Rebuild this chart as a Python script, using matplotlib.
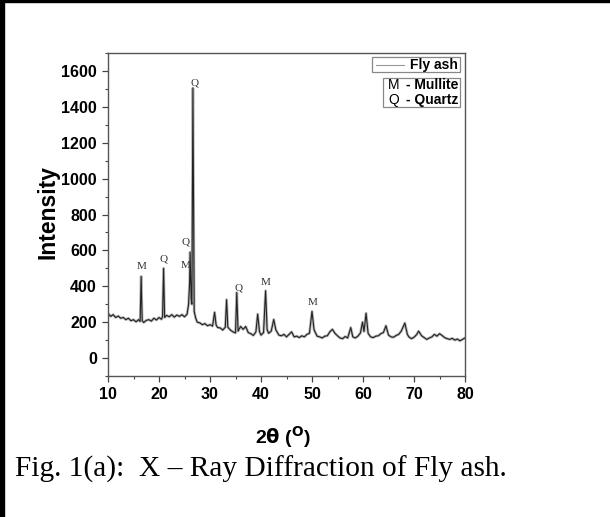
import matplotlib
matplotlib.use("Agg")
import matplotlib.pyplot as plt
from matplotlib.patches import Rectangle
from matplotlib.ticker import MultipleLocator

# 2theta (deg) and intensity
two_theta = [10, 10.5, 11, 11.5, 12, 12.5, 13, 13.5, 14, 14.5, 15, 15.5, 16, 16.3, 16.5, 16.7,
             17, 17.5, 18, 18.5, 19, 19.5, 20, 20.5, 20.7, 20.9, 21.1, 21.5, 22, 22.5, 23, 23.5,
             24, 24.5, 25, 25.5, 25.8, 26.0, 26.1, 26.3, 26.45, 26.65, 26.9, 27.2, 27.5, 28, 28.5,
             29, 29.5, 30, 30.5, 30.9, 31.2, 31.5, 32, 32.5, 33, 33.25, 33.5, 34, 34.5, 35, 35.25,
             35.5, 36, 36.5, 37, 37.5, 38, 38.5, 39, 39.35, 39.7, 40, 40.5, 40.9, 41.2, 41.5, 42,
             42.5, 42.9, 43.5, 44, 44.5, 45, 45.5, 46, 46.5, 47, 47.5, 48, 48.5, 49, 49.5, 50.0,
             50.4, 51, 51.5, 52, 52.5, 53, 53.5, 54, 54.5, 55, 55.5, 56, 56.5, 57, 57.6, 58, 58.5,
             59, 59.5, 59.9, 60.2, 60.6, 61, 61.5, 62, 62.5, 63, 63.5, 64, 64.5, 65, 65.5, 66,
             66.5, 67, 67.5, 68.2, 68.7, 69, 69.5, 70, 70.5, 70.9, 71.5, 72, 72.5, 73, 73.5, 74,
             74.5, 75, 75.5, 76, 76.5, 77, 77.5, 78, 78.5, 79, 79.5, 80]
intensity = [250, 232, 242, 226, 234, 222, 226, 214, 222, 208, 214, 202, 214, 204, 455, 208,
             198, 210, 214, 206, 222, 212, 226, 216, 232, 500, 226, 238, 230, 242, 228, 240,
             232, 242, 230, 244, 300, 420, 590, 330, 300, 1505, 260, 222, 200, 196, 186,
             192, 180, 186, 178, 255, 184, 170, 168, 156, 172, 325, 172, 156, 146, 140, 365,
             150, 176, 160, 176, 142, 136, 126, 146, 245, 148, 128, 142, 375, 158, 138, 150,
             215, 158, 128, 124, 132, 118, 132, 146, 118, 122, 114, 124, 118, 132, 138, 260,
             158, 122, 118, 112, 122, 124, 146, 160, 138, 124, 112, 108, 120, 112, 170, 118, 112,
             122, 140, 200, 148, 250, 138, 118, 114, 122, 124, 136, 142, 180, 128, 118, 116,
             126, 132, 150, 195, 132, 118, 108, 116, 130, 150, 124, 114, 104, 112, 118, 132,
             122, 136, 126, 114, 108, 104, 110, 100, 106, 96, 104, 112]

# phase labels: (text, 2theta, intensity)
peak_labels = [("M", 16.5, 510), ("Q", 20.9, 550), ("Q", 25.3, 645), ("M", 25.2, 517),
               ("Q", 26.9, 1535), ("Q", 35.6, 390), ("M", 41.0, 420), ("M", 50.2, 310)]

W, H = 610, 517
fig = plt.figure(figsize=(W / 100, H / 100), dpi=100)
ax = fig.add_axes([108 / W, 1 - 376 / H, 357 / W, 323 / H])

ax.plot(two_theta, intensity, color="#b8b8b8", lw=2.0, solid_joinstyle="round")
ax.plot(two_theta, intensity, color="#222222", lw=0.8)

for txt, x, y in peak_labels:
    ax.text(x, y, txt, ha="center", va="center", fontsize=8,
            family="Liberation Serif", color="#333333")

ax.set_xlim(10, 80)
ax.set_ylim(-100, 1700)
ax.xaxis.set_major_locator(MultipleLocator(10))
ax.xaxis.set_minor_locator(MultipleLocator(5))
ax.yaxis.set_major_locator(MultipleLocator(200))
ax.yaxis.set_minor_locator(MultipleLocator(100))
ax.tick_params(which="major", direction="out", length=4, width=0.9, color="#444444",
               labelsize=11.5, pad=4)
ax.tick_params(which="minor", direction="out", length=2.5, width=0.8, color="#444444")
for lab in ax.get_xticklabels() + ax.get_yticklabels():
    lab.set_fontfamily("Liberation Sans")
    lab.set_fontweight("bold")
for sp in ax.spines.values():
    sp.set_color("#555555")
    sp.set_linewidth(1.0)

fig.text(48 / W, 1 - 212 / H, "Intensity", rotation=90, ha="center", va="center",
         family="Liberation Sans", fontweight="bold", fontsize=16.5)
fig.text(283 / W, 1 - 437 / H, r"2$\mathbf{\theta}$ ($\mathbf{^{O}}$)", ha="center",
         va="center", family="Liberation Sans", fontweight="bold", fontsize=14)

# legend boxes
tf = fig.transFigure
fig.patches.append(Rectangle((372 / W, 1 - 72 / H), 88 / W, 15 / H, transform=tf,
                             fill=False, ec="#888888", lw=0.9))
fig.patches.append(Rectangle((383 / W, 1 - 107 / H), 77 / W, 29 / H, transform=tf,
                             fill=False, ec="#888888", lw=0.9))
fig.add_artist(plt.Line2D([376 / W, 404 / W], [1 - 64.5 / H, 1 - 64.5 / H], transform=tf,
                          color="#999999", lw=0.8))
fig.text(458 / W, 1 - 64.5 / H, "Fly ash", ha="right", va="center", fontsize=10,
         family="Liberation Sans", fontweight="bold")
fig.text(388 / W, 1 - 85 / H, "M", ha="left", va="center", fontsize=10,
         family="Liberation Sans")
fig.text(458 / W, 1 - 85 / H, "- Mullite", ha="right", va="center", fontsize=10,
         family="Liberation Sans", fontweight="bold")
fig.text(388 / W, 1 - 100 / H, "Q", ha="left", va="center", fontsize=10,
         family="Liberation Sans")
fig.text(458 / W, 1 - 100 / H, "- Quartz", ha="right", va="center", fontsize=10,
         family="Liberation Sans", fontweight="bold")

# caption
fig.text(15 / W, 1 - 477 / H, "Fig. 1(a):  X \u2013 Ray Diffraction of Fly ash.", ha="left",
         va="baseline", fontsize=21.2, family="Liberation Serif")

# black frame edges of the scan
fig.patches.append(Rectangle((0, 1 - 2 / H), 1, 2 / H, transform=tf, color="black"))
fig.patches.append(Rectangle((0, 0), 4 / W, 1, transform=tf, color="black"))

fig.savefig("out.png", dpi=100)
